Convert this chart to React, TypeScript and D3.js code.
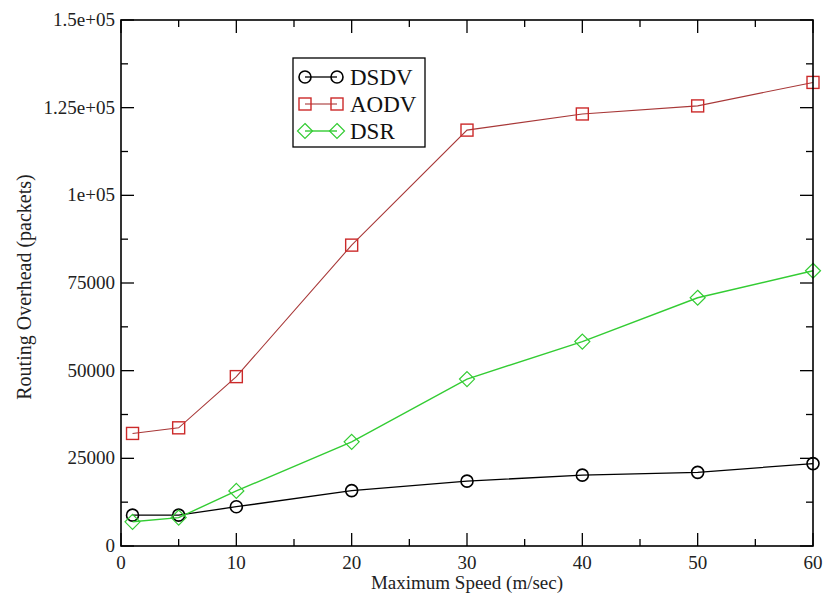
import React from "react";
import * as d3 from "d3";

const speeds = [1, 5, 10, 20, 30, 40, 50, 60];
const dsdv = [8800, 8800, 11200, 15800, 18500, 20200, 21000, 23500];
const aodv = [32100, 33700, 48300, 85800, 118600, 123200, 125500, 132200];
const dsr = [6900, 8100, 15700, 29700, 47600, 58300, 70800, 78500];

const xMajor = [0, 10, 20, 30, 40, 50, 60];
const xMinor = [5, 15, 25, 35, 45, 55];
const yMajor = [0, 25000, 50000, 75000, 100000, 125000, 150000];
const yMajorLabels = ["0", "25000", "50000", "75000", "1e+05", "1.25e+05", "1.5e+05"];
const yMinor = [12500, 37500, 62500, 87500, 112500, 137500];

const seriesNames = ["DSDV", "AODV", "DSR"];

const W = 829;
const H = 595;
const L = 121, R = 813, T = 20, B = 546;
const FONT = "'Liberation Serif', 'Times New Roman', serif";

const x = d3.scaleLinear().domain([0, 60]).range([L, R]);
const y = d3.scaleLinear().domain([0, 150000]).range([B, T]);

function Marker({ kind, cx, cy, color }: { kind: string; cx: number; cy: number; color: string }) {
  if (kind === "circle") {
    return <circle cx={cx} cy={cy} r={6} fill="none" stroke={color} strokeWidth={1.6} />;
  }
  if (kind === "square") {
    return <rect x={cx - 6} y={cy - 6} width={12} height={12} fill="none" stroke={color} strokeWidth={1.4} />;
  }
  const s = 7.5;
  return (
    <path
      d={`M${cx},${cy - s}L${cx + s},${cy}L${cx},${cy + s}L${cx - s},${cy}Z`}
      fill="none"
      stroke={color}
      strokeWidth={1.2}
    />
  );
}

export default function App() {
  const series = [
    { name: seriesNames[0], values: dsdv, line: "#000000", mark: "#000000", kind: "circle", lw: 1.3 },
    { name: seriesNames[1], values: aodv, line: "#a83838", mark: "#cc2a2a", kind: "square", lw: 1.1 },
    { name: seriesNames[2], values: dsr, line: "#33cc33", mark: "#33cc33", kind: "diamond", lw: 1.4 },
  ];
  const lineGen = d3
    .line<number>()
    .x((_, i) => x(speeds[i]))
    .y((d) => y(d));

  const legendRows = [77, 104, 131];

  return (
    <svg width={W} height={H} style={{ position: "absolute", left: 0, top: 0, background: "#fff" }}>
      <rect x={0} y={0} width={W} height={H} fill="#fff" />
      {/* ticks */}
      <g stroke="#000" strokeWidth={1.3}>
        {xMajor.map((v) => (
          <g key={"xm" + v}>
            <line x1={x(v)} x2={x(v)} y1={B} y2={B - 13} />
            <line x1={x(v)} x2={x(v)} y1={T} y2={T + 13} />
          </g>
        ))}
        {xMinor.map((v) => (
          <g key={"xn" + v}>
            <line x1={x(v)} x2={x(v)} y1={B} y2={B - 7} />
            <line x1={x(v)} x2={x(v)} y1={T} y2={T + 7} />
          </g>
        ))}
        {yMajor.map((v) => (
          <g key={"ym" + v}>
            <line x1={L} x2={L + 13} y1={y(v)} y2={y(v)} />
            <line x1={R} x2={R - 13} y1={y(v)} y2={y(v)} />
          </g>
        ))}
        {yMinor.map((v) => (
          <g key={"yn" + v}>
            <line x1={L} x2={L + 7} y1={y(v)} y2={y(v)} />
            <line x1={R} x2={R - 7} y1={y(v)} y2={y(v)} />
          </g>
        ))}
      </g>
      {/* series */}
      {series.map((s) => (
        <g key={s.name}>
          <path d={lineGen(s.values) || ""} fill="none" stroke={s.line} strokeWidth={s.lw} />
          {s.values.map((v, i) => (
            <Marker key={i} kind={s.kind} cx={x(speeds[i])} cy={y(v)} color={s.mark} />
          ))}
        </g>
      ))}
      {/* frame */}
      <rect x={L} y={T} width={R - L} height={B - T} fill="none" stroke="#000" strokeWidth={1.6} />
      {/* tick labels */}
      <g fontFamily={FONT} fontSize={19} fill="#222">
        {xMajor.map((v) => (
          <text key={"xl" + v} x={x(v)} y={B + 23} textAnchor="middle">
            {String(v)}
          </text>
        ))}
        {yMajor.map((v, i) => (
          <text key={"yl" + v} x={L - 6} y={y(v) + 6} textAnchor="end">
            {yMajorLabels[i]}
          </text>
        ))}
      </g>
      {/* axis labels */}
      <text x={(L + R) / 2} y={589} textAnchor="middle" fontFamily={FONT} fontSize={19} fill="#222">
        Maximum Speed (m/sec)
      </text>
      <text
        transform={`translate(31,${287}) rotate(-90)`}
        textAnchor="middle"
        fontFamily={FONT}
        fontSize={20}
        fill="#222"
      >
        Routing Overhead (packets)
      </text>
      {/* legend */}
      <rect x={293} y={58} width={132} height={89} fill="#fff" stroke="#000" strokeWidth={1.3} />
      {series.map((s, i) => (
        <g key={"lg" + s.name}>
          <line x1={305} x2={337} y1={legendRows[i]} y2={legendRows[i]} stroke={s.line} strokeWidth={s.lw} />
          <Marker kind={s.kind} cx={305} cy={legendRows[i]} color={s.mark} />
          <Marker kind={s.kind} cx={337} cy={legendRows[i]} color={s.mark} />
          <text x={350} y={legendRows[i] + 8} fontFamily={FONT} fontSize={23} fill="#111">
            {s.name}
          </text>
        </g>
      ))}
    </svg>
  );
}
